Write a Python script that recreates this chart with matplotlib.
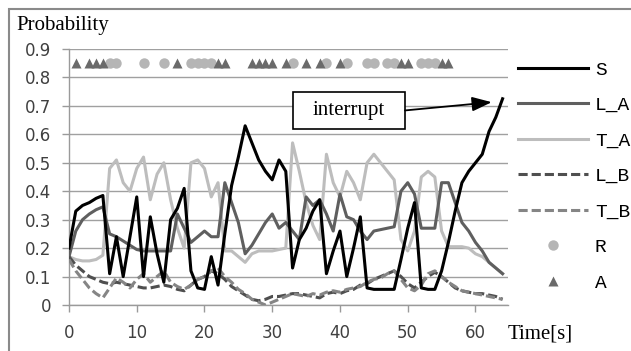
import matplotlib
matplotlib.use("Agg")
import matplotlib.pyplot as plt
from matplotlib.patches import Rectangle

# time axis [s]
t = list(range(65))

s_vals = [0.20, 0.33, 0.35, 0.36, 0.375, 0.385, 0.11, 0.24, 0.10, 0.24,
          0.38, 0.10, 0.31, 0.18, 0.08, 0.30, 0.34, 0.41, 0.12, 0.06,
          0.055, 0.17, 0.07, 0.25, 0.42, 0.52, 0.63, 0.57, 0.51, 0.47,
          0.44, 0.51, 0.47, 0.13, 0.23, 0.27, 0.33, 0.37, 0.11, 0.19,
          0.26, 0.10, 0.20, 0.31, 0.06, 0.055, 0.055, 0.055, 0.055, 0.16,
          0.27, 0.36, 0.06, 0.055, 0.055, 0.12, 0.22, 0.33, 0.43, 0.47,
          0.50, 0.53, 0.61, 0.66, 0.725]

la_vals = [0.17, 0.26, 0.30, 0.32, 0.335, 0.345, 0.25, 0.24, 0.225, 0.21,
           0.195, 0.19, 0.19, 0.19, 0.19, 0.19, 0.32, 0.27, 0.22, 0.24,
           0.26, 0.24, 0.24, 0.43, 0.36, 0.29, 0.18, 0.21, 0.25, 0.29,
           0.32, 0.27, 0.29, 0.26, 0.23, 0.38, 0.35, 0.37, 0.32, 0.26,
           0.39, 0.31, 0.30, 0.26, 0.23, 0.26, 0.265, 0.27, 0.275, 0.40,
           0.43, 0.39, 0.27, 0.27, 0.27, 0.43, 0.43, 0.36, 0.29, 0.26,
           0.22, 0.19, 0.15, 0.13, 0.11]

ta_vals = [0.17, 0.16, 0.155, 0.155, 0.16, 0.175, 0.48, 0.51, 0.43, 0.40,
           0.48, 0.52, 0.37, 0.46, 0.50, 0.37, 0.27, 0.20, 0.50, 0.51,
           0.48, 0.38, 0.43, 0.19, 0.19, 0.17, 0.15, 0.18, 0.19, 0.19,
           0.19, 0.195, 0.20, 0.57, 0.47, 0.36, 0.28, 0.23, 0.53, 0.43,
           0.38, 0.47, 0.43, 0.37, 0.50, 0.53, 0.50, 0.47, 0.44, 0.23,
           0.19, 0.26, 0.45, 0.47, 0.45, 0.26, 0.205, 0.205, 0.205, 0.20,
           0.18, 0.17, 0.15, 0.13, 0.11]

lb_vals = [0.17, 0.14, 0.12, 0.10, 0.09, 0.08, 0.075, 0.08, 0.075, 0.07,
           0.065, 0.06, 0.06, 0.065, 0.07, 0.065, 0.055, 0.05, 0.07, 0.09,
           0.10, 0.12, 0.11, 0.09, 0.065, 0.05, 0.035, 0.02, 0.015, 0.02,
           0.03, 0.03, 0.035, 0.04, 0.04, 0.035, 0.03, 0.025, 0.04, 0.045,
           0.04, 0.05, 0.055, 0.07, 0.075, 0.09, 0.10, 0.11, 0.12, 0.10,
           0.075, 0.06, 0.08, 0.10, 0.115, 0.10, 0.08, 0.06, 0.05, 0.045,
           0.04, 0.04, 0.035, 0.03, 0.02]

tb_vals = [0.16, 0.12, 0.09, 0.06, 0.04, 0.025, 0.06, 0.095, 0.08, 0.06,
           0.09, 0.11, 0.08, 0.10, 0.12, 0.08, 0.065, 0.055, 0.07, 0.09,
           0.10, 0.12, 0.13, 0.10, 0.08, 0.055, 0.04, 0.02, 0.01, 0.0,
           0.01, 0.02, 0.03, 0.04, 0.035, 0.03, 0.04, 0.035, 0.045, 0.05,
           0.045, 0.055, 0.06, 0.065, 0.08, 0.09, 0.095, 0.11, 0.12, 0.09,
           0.06, 0.05, 0.07, 0.11, 0.12, 0.10, 0.08, 0.065, 0.05, 0.045,
           0.04, 0.035, 0.03, 0.025, 0.02]

# event markers (shown in a row near the top)
event_level = 0.85
r_times = [6, 7, 11, 14, 18, 19, 20, 21, 33, 38, 41, 44, 45, 47, 48, 52, 53, 54]
a_times = [1, 3, 4, 5, 16, 22, 23, 27, 28, 29, 30, 32, 35, 37, 40, 49, 50, 55, 56]

x_ticks = [0, 10, 20, 30, 40, 50, 60]
y_ticks = [0, 0.1, 0.2, 0.3, 0.4, 0.5, 0.6, 0.7, 0.8, 0.9]
y_ticklabels = ["0", "0.1", "0.2", "0.3", "0.4", "0.5", "0.6", "0.7", "0.8", "0.9"]

serif = "Liberation Serif"
mono = "Liberation Mono"

fig = plt.figure(figsize=(6.31, 3.51), dpi=100)
ax = fig.add_axes([69 / 631, 46 / 351, 439 / 631, 256 / 351])

lw = 2.2
ax.plot(t, ta_vals, color="#bdbdbd", lw=lw, label="T_A", zorder=3)
ax.plot(t, la_vals, color="#5f5f5f", lw=lw, label="L_A", zorder=4)
ax.plot(t, lb_vals, color="#4f4f4f", lw=lw, dashes=(3, 1.3), label="L_B", zorder=4)
ax.plot(t, tb_vals, color="#858585", lw=lw, dashes=(3, 1.3), label="T_B", zorder=4)
ax.plot(t, s_vals, color="black", lw=lw, label="S", zorder=5)
ax.plot(r_times, [event_level] * len(r_times), "o", color="#b5b5b5",
        ms=7.5, mec="none", label="R", zorder=3)
ax.plot(a_times, [event_level] * len(a_times), "^", color="#6a6a6a",
        ms=7, mec="none", label="A", zorder=3)

ax.set_xlim(0, 64.8)
ax.set_ylim(0, 0.9)
ax.set_xticks(x_ticks)
ax.set_yticks(y_ticks)
ax.set_yticklabels(y_ticklabels)
ax.tick_params(colors="#9a9a9a", labelcolor="#404040", labelsize=12,
               length=5, width=1)
ax.tick_params(axis="y", pad=8)
ax.tick_params(axis="x", pad=9)
ax.grid(axis="y", color="#a0a0a0", lw=1)
ax.set_axisbelow(True)
for side in ["top", "right"]:
    ax.spines[side].set_visible(False)
for side in ["left", "bottom"]:
    ax.spines[side].set_color("#9a9a9a")
    ax.spines[side].set_linewidth(1)

# interrupt annotation
ax.text(41.3, 0.684, "interrupt", family=serif, fontsize=15,
        ha="center", va="center", zorder=7)
box = Rectangle((33.0, 0.6175), 16.6, 0.131, facecolor="white",
                edgecolor="black", lw=1.2, zorder=6)
ax.add_patch(box)
ax.annotate("", xy=(62.4, 0.713), xytext=(49.6, 0.684),
            arrowprops=dict(arrowstyle="-|>,head_length=0.6,head_width=0.22",
                            color="black", lw=1.3, mutation_scale=20,
                            shrinkA=0, shrinkB=0), zorder=7)

# legend
order = ["S", "L_A", "T_A", "L_B", "T_B", "R", "A"]
handles, labels = ax.get_legend_handles_labels()
hmap = dict(zip(labels, handles))
leg = fig.legend([hmap[k] for k in order], order, loc="upper left",
                 bbox_to_anchor=(518 / 631, 1 - 61 / 351), frameon=False,
                 prop={"family": mono, "size": 14}, handlelength=3.6,
                 handletextpad=0.35, labelspacing=0.92, borderpad=0,
                 borderaxespad=0)

fig.text(16 / 631, 1 - 30 / 351, "Probability", family=serif, fontsize=15,
         va="baseline", ha="left")
fig.text(508 / 631, 1 - 338 / 351, "Time[s]", family=serif, fontsize=15,
         va="baseline", ha="left")

# outer chart frame
fig.patches.append(Rectangle((9 / 631, -0.05), 1.0, 0.974 + 0.05,
                             transform=fig.transFigure, fill=False,
                             edgecolor="#8a8a8a", lw=1.5))

fig.savefig("out.png", dpi=100)
